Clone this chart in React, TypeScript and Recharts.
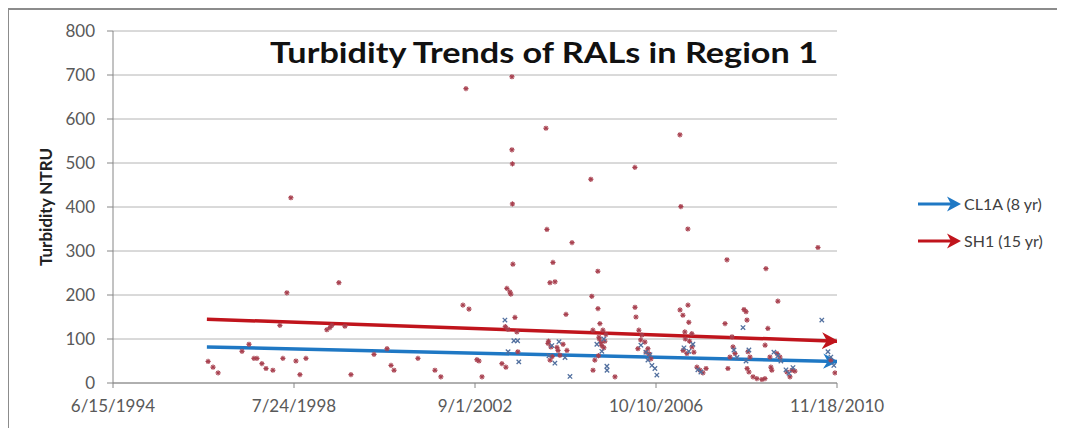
import { ComposedChart, Scatter, Line, XAxis, YAxis, CartesianGrid } from "recharts"

// x axis: sample dates, shown as M/D/YYYY
const dateTicks = ["1994-06-15", "1998-07-24", "2002-09-01", "2006-10-10", "2010-11-18"]
const turbidityTicks = [0, 100, 200, 300, 400, 500, 600, 700, 800]

// SH1 turbidity samples [date, NTRU]
const sh1Samples: [string, number][] = [
  ["1996-08-11", 49], ["1996-09-21", 36], ["1996-11-02", 23], ["1997-05-19", 72],
  ["1997-07-16", 88], ["1997-08-26", 56], ["1997-09-20", 56], ["1997-10-31", 44],
  ["1997-12-04", 33], ["1998-01-30", 29], ["1998-03-29", 131], ["1998-04-23", 56],
  ["1998-05-26", 205], ["1998-06-28", 421], ["1998-08-09", 50], ["1998-09-11", 19],
  ["1998-10-31", 56], ["1999-04-22", 121], ["1999-05-18", 126], ["1999-06-03", 131],
  ["1999-07-31", 228], ["1999-09-19", 129], ["1999-11-08", 19], ["2000-05-17", 65],
  ["2000-09-02", 78], ["2000-10-05", 40], ["2000-10-30", 29], ["2001-05-16", 56],
  ["2001-10-04", 29], ["2001-11-22", 14], ["2002-05-24", 177], ["2002-06-18", 669],
  ["2002-07-13", 168], ["2002-09-17", 53], ["2002-10-04", 50], ["2002-10-29", 14],
  ["2003-04-12", 44], ["2003-05-10", 128], ["2003-05-15", 36], ["2003-05-23", 215],
  ["2003-06-01", 122], ["2003-06-17", 207], ["2003-06-25", 202], ["2003-07-04", 696],
  ["2003-07-04", 530], ["2003-07-08", 498], ["2003-07-08", 407], ["2003-07-12", 270],
  ["2003-07-29", 149], ["2003-08-14", 116], ["2003-08-22", 71], ["2004-04-11", 579],
  ["2004-04-19", 349], ["2004-04-28", 90], ["2004-05-02", 95], ["2004-05-14", 228],
  ["2004-05-15", 52], ["2004-05-22", 82], ["2004-06-02", 60], ["2004-06-08", 274],
  ["2004-06-25", 230], ["2004-07-11", 81], ["2004-07-20", 74], ["2004-08-05", 63],
  ["2004-08-31", 88], ["2004-09-24", 156], ["2004-10-02", 74], ["2004-11-13", 319],
  ["2005-04-18", 463], ["2005-04-26", 197], ["2005-05-05", 120], ["2005-05-06", 29],
  ["2005-05-21", 52], ["2005-06-15", 254], ["2005-06-16", 169], ["2005-06-20", 62],
  ["2005-06-24", 104], ["2005-06-28", 100], ["2005-07-02", 135], ["2005-07-10", 92],
  ["2005-07-18", 85], ["2005-07-27", 120], ["2005-08-04", 80], ["2005-08-12", 95],
  ["2005-08-21", 110], ["2005-11-04", 14], ["2006-04-18", 490], ["2006-04-19", 172],
  ["2006-04-27", 150], ["2006-05-13", 78], ["2006-05-21", 120], ["2006-06-05", 98],
  ["2006-06-15", 109], ["2006-07-10", 93], ["2006-07-20", 70], ["2006-08-04", 78],
  ["2006-08-15", 66], ["2006-08-29", 55], ["2007-04-26", 564], ["2007-04-27", 166],
  ["2007-05-04", 401], ["2007-05-21", 154], ["2007-05-22", 74], ["2007-06-06", 116],
  ["2007-06-10", 100], ["2007-06-23", 67], ["2007-07-01", 350], ["2007-07-02", 177],
  ["2007-07-09", 138], ["2007-07-15", 95], ["2007-08-03", 112], ["2007-08-04", 82],
  ["2007-08-20", 70], ["2007-09-14", 36], ["2007-10-09", 29], ["2007-11-03", 23],
  ["2007-11-29", 33], ["2008-05-04", 135], ["2008-05-20", 280], ["2008-05-28", 33],
  ["2008-06-14", 59], ["2008-07-01", 105], ["2008-07-09", 82], ["2008-07-26", 67],
  ["2008-10-08", 167], ["2008-10-25", 162], ["2008-11-02", 143], ["2008-11-03", 33],
  ["2008-11-10", 71], ["2008-11-18", 25], ["2008-11-27", 59], ["2008-12-22", 14],
  ["2009-01-23", 10], ["2009-03-06", 8], ["2009-03-31", 10], ["2009-04-01", 86],
  ["2009-04-08", 260], ["2009-04-24", 124], ["2009-05-11", 59], ["2009-05-19", 36],
  ["2009-05-27", 29], ["2009-07-08", 67], ["2009-07-16", 186], ["2009-08-02", 59],
  ["2009-09-29", 25], ["2009-10-24", 14], ["2009-11-09", 29], ["2009-12-04", 27],
  ["2010-06-13", 308], ["2010-09-28", 52], ["2010-11-01", 23],
]

// CL1A turbidity samples [date, NTRU]
const cl1aSamples: [string, number][] = [
  ["2003-05-07", 143], ["2003-06-02", 71], ["2003-07-20", 96], ["2003-08-20", 96],
  ["2003-08-30", 48], ["2004-05-06", 62], ["2004-05-30", 85], ["2004-06-24", 45],
  ["2004-07-28", 94], ["2004-09-16", 58], ["2004-10-27", 15], ["2005-06-07", 88],
  ["2005-07-18", 72], ["2005-08-03", 100], ["2005-08-29", 38], ["2005-08-30", 29],
  ["2006-06-07", 86], ["2006-07-18", 70], ["2006-08-04", 52], ["2006-08-21", 64],
  ["2006-09-06", 40], ["2006-10-01", 33], ["2006-10-17", 18], ["2007-05-30", 80],
  ["2007-07-09", 72], ["2007-08-12", 88], ["2007-09-22", 30], ["2007-10-17", 25],
  ["2008-07-17", 75], ["2008-08-11", 58], ["2008-09-30", 126], ["2008-10-25", 50],
  ["2008-11-18", 75], ["2009-06-13", 70], ["2009-07-16", 62], ["2009-08-10", 50],
  ["2009-09-21", 30], ["2009-10-16", 22], ["2009-11-18", 35], ["2010-07-15", 143],
  ["2010-09-04", 71], ["2010-09-28", 59], ["2010-10-23", 40],
]

// trend arrows, start and end
const sh1Trend: [string, number][] = [["1996-08-01", 145], ["2010-11-18", 95]]
const cl1aTrend: [string, number][] = [["1996-08-01", 82], ["2010-11-18", 49]]

const RED = "#c0141c"
const BLUE = "#1f78c4"

function toTime(iso: string): number {
  const [y, m, d] = iso.split("-").map(Number)
  return Date.UTC(y, m - 1, d)
}

function formatDate(t: number): string {
  const d = new Date(t)
  return `${d.getUTCMonth() + 1}/${d.getUTCDate()}/${d.getUTCFullYear()}`
}

const toPoints = (rows: [string, number][]) => rows.map(([date, v]) => ({ t: toTime(date), v }))

function StarMark({ cx, cy }: any) {
  if (cx == null || cy == null) return null
  const r = 2.6
  const q = 1.8
  return (
    <g stroke="#a8404f" strokeWidth={1.2}>
      <line x1={cx - r} y1={cy} x2={cx + r} y2={cy} />
      <line x1={cx} y1={cy - r} x2={cx} y2={cy + r} />
      <line x1={cx - q} y1={cy - q} x2={cx + q} y2={cy + q} />
      <line x1={cx - q} y1={cy + q} x2={cx + q} y2={cy - q} />
    </g>
  )
}

function CrossMark({ cx, cy }: any) {
  if (cx == null || cy == null) return null
  const q = 2.2
  return (
    <g stroke="#52709f" strokeWidth={1.3}>
      <line x1={cx - q} y1={cy - q} x2={cx + q} y2={cy + q} />
      <line x1={cx - q} y1={cy + q} x2={cx + q} y2={cy - q} />
    </g>
  )
}

function LegendArrow({ color }: { color: string }) {
  return (
    <svg width={44} height={18} style={{ display: "block" }}>
      <line x1={0} y1={9} x2={34} y2={9} stroke={color} strokeWidth={3} />
      <path d="M29,1.5 L43,9 L29,16.5 L33,9 Z" fill={color} />
    </svg>
  )
}

const legendItems = [
  { label: "CL1A (8 yr)", color: BLUE, top: 186 },
  { label: "SH1 (15 yr)", color: RED, top: 223 },
]

export default function App() {
  const tickStyle = { fontSize: 17, fill: "#595959", fontFamily: "Lato" }
  return (
    <div style={{ position: "relative", width: 1057, height: 420, fontFamily: "Lato", background: "#fff" }}>
      <div style={{ position: "absolute", left: -1, top: 0, width: 2, height: 420, background: "#8c8c8c" }} />
      <div style={{ position: "absolute", left: -1, top: 0, width: 1058, height: 2, background: "#8c8c8c" }} />
      <ComposedChart
        width={1057}
        height={420}
        margin={{ top: 23, right: 228, bottom: 15, left: 45 }}
        style={{ position: "absolute", left: 0, top: 0 }}
      >
        <defs>
          <marker id="headRed" viewBox="0 0 10 10" refX="9" refY="5" markerWidth="4.8" markerHeight="4.8" orient="auto" markerUnits="strokeWidth">
            <path d="M0,0 L10,5 L0,10 L3,5 Z" fill={RED} />
          </marker>
          <marker id="headBlue" viewBox="0 0 10 10" refX="9" refY="5" markerWidth="4.4" markerHeight="4.4" orient="auto" markerUnits="strokeWidth">
            <path d="M0,0 L10,5 L0,10 L3,5 Z" fill={BLUE} />
          </marker>
        </defs>
        <CartesianGrid vertical={false} stroke="#b4b4b4" />
        <XAxis
          type="number"
          dataKey="t"
          domain={[toTime(dateTicks[0]), toTime(dateTicks[dateTicks.length - 1])]}
          ticks={dateTicks.map(toTime)}
          tickFormatter={formatDate}
          tick={tickStyle}
          tickSize={5}
          tickMargin={12}
          stroke="#868686"
          height={30}
          allowDataOverflow
        />
        <YAxis
          type="number"
          dataKey="v"
          domain={[0, 800]}
          ticks={turbidityTicks}
          tick={tickStyle}
          tickSize={6}
          tickMargin={12}
          stroke="#868686"
          width={60}
        />
        <Scatter data={toPoints(sh1Samples)} dataKey="v" shape={StarMark} isAnimationActive={false} />
        <Scatter data={toPoints(cl1aSamples)} dataKey="v" shape={CrossMark} isAnimationActive={false} />
        <Line
          data={toPoints(sh1Trend)}
          dataKey="v"
          stroke={RED}
          strokeWidth={3.5}
          dot={false}
          activeDot={false}
          markerEnd="url(#headRed)"
          isAnimationActive={false}
        />
        <Line
          data={toPoints(cl1aTrend)}
          dataKey="v"
          stroke={BLUE}
          strokeWidth={3.5}
          dot={false}
          activeDot={false}
          markerEnd="url(#headBlue)"
          isAnimationActive={false}
        />
      </ComposedChart>
      <svg width={560} height={40} style={{ position: "absolute", left: 262, top: 24 }}>
        <text x={0} y={31} textLength={548} lengthAdjust="spacingAndGlyphs" fontFamily="Lato" fontWeight={700} fontSize={28} fill="#111">
          Turbidity Trends of RALs in Region 1
        </text>
      </svg>
      <div
        style={{
          position: "absolute",
          left: 37,
          top: 199,
          transform: "translate(-50%, -50%) rotate(-90deg)",
          fontSize: 17,
          fontWeight: 700,
          color: "#222",
          whiteSpace: "nowrap",
        }}
      >
        Turbidity NTRU
      </div>
      {legendItems.map((item) => (
        <div key={item.label} style={{ position: "absolute", left: 910, top: item.top, display: "flex", alignItems: "center", gap: 2 }}>
          <LegendArrow color={item.color} />
          <span style={{ fontSize: 16, color: "#404040", whiteSpace: "nowrap" }}>{item.label}</span>
        </div>
      ))}
    </div>
  )
}
